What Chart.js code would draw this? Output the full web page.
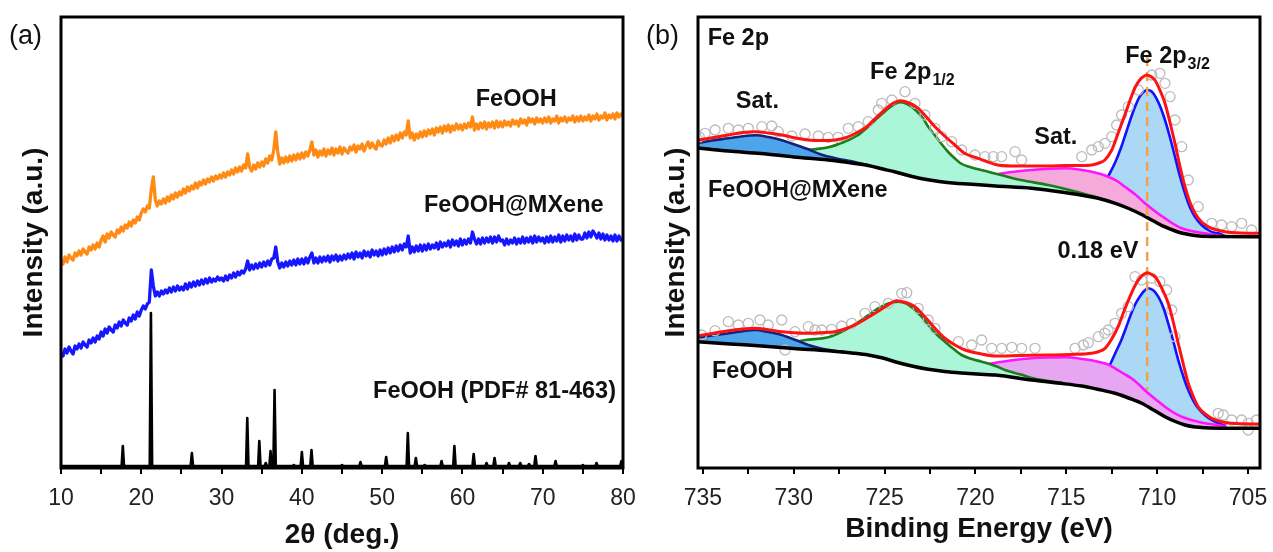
<!DOCTYPE html>
<html>
<head>
<meta charset="utf-8">
<script src="https://cdn.jsdelivr.net/npm/chart.js@4.4.1/dist/chart.umd.min.js"></script>
<style>
html, body { margin: 0; padding: 0; background: #fff; }
#wrap { position: relative; width: 1273px; height: 552px; }
.panel { position: absolute; top: 0; height: 552px; }
#pa { left: 0; width: 640px; }
#pb { left: 640px; width: 633px; }
</style>
</head>
<body>
<div id="wrap">
  <div class="panel" id="pa"><canvas id="xrd"></canvas></div>
  <div class="panel" id="pb"><canvas id="xps"></canvas></div>
</div>
<script>
// ---------- (a) XRD, 2theta 10-80 deg, 0.25 deg step ----------
var xrdStart = 10, xrdStep = 0.25;

var feoohXrd = [
  208,204,211,206,213,210,208,215,212,217,213,219,216,214,221,218,223,219,225,221,
  228,232,226,234,230,236,233,231,238,235,241,237,243,240,246,242,248,245,251,248,
  255,259,256,262,260,279,291,268,262,267,264,269,265,271,267,273,269,275,271,276,
  273,279,275,281,277,282,279,285,280,286,283,288,284,289,286,291,287,292,289,293,
  290,295,291,296,293,298,294,300,296,301,297,303,300,314,301,297,303,299,305,301,
  306,302,309,305,312,308,318,336,316,304,310,305,311,306,312,307,313,308,314,309,
  315,310,316,312,318,326,313,318,311,317,313,319,312,318,314,320,313,319,315,321,
  314,320,317,315,321,318,323,316,322,319,324,317,322,326,320,325,321,319,327,323,
  322,328,324,330,325,332,327,333,328,335,330,336,333,347,330,335,328,334,330,336,
  331,337,332,338,334,339,333,340,336,341,335,342,337,343,336,342,338,344,339,343,
  338,344,340,345,341,351,338,344,339,345,340,346,339,345,341,346,340,347,341,346,
  341,347,343,346,342,348,344,347,342,349,345,348,343,350,346,349,344,350,346,349,
  345,350,346,351,345,349,347,352,345,350,347,351,346,350,348,352,346,351,347,352,
  347,351,348,353,347,352,349,354,348,352,350,355,348,353,350,354,349,355,351,354,
  352
];

var mxeneXrd = [
  116,112,119,115,121,117,114,122,119,124,120,126,123,121,128,125,130,126,132,129,
  136,132,139,135,141,138,136,143,140,146,142,148,145,143,150,147,153,149,156,152,
  158,162,159,164,166,198,182,172,176,172,177,174,178,175,180,176,181,177,182,178,
  181,178,184,179,185,181,186,182,187,183,188,184,189,185,190,186,189,187,191,188,
  190,187,192,188,193,190,195,191,196,193,197,195,199,207,198,203,199,204,200,205,
  201,206,202,207,203,209,210,221,206,200,205,201,206,202,207,203,208,203,209,204,
  209,204,210,205,211,215,205,210,205,211,206,211,207,212,206,212,208,213,207,212,
  208,213,209,214,210,215,209,216,211,215,210,217,212,216,211,218,213,217,212,218,
  213,219,214,220,215,221,216,222,217,223,218,224,221,232,215,221,216,222,217,223,
  217,223,218,224,219,223,220,225,219,226,221,225,222,227,221,228,223,227,222,229,
  223,228,224,229,225,236,229,224,229,224,230,225,230,226,231,225,231,226,232,227,
  228,223,229,224,228,225,230,224,229,225,231,225,230,226,231,225,232,226,231,227,
  230,225,231,226,232,226,231,227,233,226,232,227,233,228,232,227,234,228,233,229,
  229,235,230,236,231,237,234,230,235,229,234,228,233,228,232,227,233,227,232,228,
  229
];
var xrdTicks = [10, 15, 20, 25, 30, 35, 40, 45, 50, 55, 60, 65, 70, 75, 80];

// reference card FeOOH (PDF# 81-463): [2theta, height]
var refBase = 2;
var refPeaks = [
  [17.7,22],[21.2,155],[26.3,15],[33.2,50],[34.7,27],[35.5,5],[36.1,17],[36.6,78],
  [39.0,3],[40.0,16],[41.2,18],[43.2,2],[45.0,3],[47.3,6],[50.5,11],[51.5,2],
  [53.2,35],[54.2,10],[55.3,3],[57.4,7],[59.0,22],[61.4,14],[63.0,5],[64.0,10],
  [65.8,5],[67.2,5],[68.3,4],[69.1,12],[71.6,7],[73.4,2],[75.0,3],[76.7,5],[79.8,7]
];

// ---------- (b) XPS Fe 2p, [binding energy, intensity] ----------
var xpsTicks = [705, 707.5, 710, 712.5, 715, 717.5, 720, 722.5, 725, 727.5, 730, 732.5, 735];

var mxBackground = [[735.3,320],[733.6,317],[731.8,314.5],[730,311],[728.1,308],[726.8,305],[725.9,302.5],[725.1,299],[724.4,296],[723.7,292.5],[723,289.5],[722,286.5],[721.1,284.7],[720,283.5],[718.9,282],[716.9,279.7],[715.5,276.5],[714.2,273],[713.2,269.5],[712.3,264.7],[711.5,259],[710.8,253],[710.2,247],[709.6,241.3],[709,237],[708.6,234.7],[707.7,232],[706.5,231.5],[704.3,231.3]];
var mxSat1 = [[735.3,324.7],[734.5,327.5],[733.6,329.7],[732.8,331.8],[732.1,332.7],[731.4,331],[730.7,328],[730,323.8],[729.2,318.7],[728.5,313.5],[727.7,309.7],[726.6,305.8],[725.8,302.2]];
var mx2p12 = [[731,313.5],[730,315.5],[729.2,318],[728.1,320.7],[727.2,326.3],[726.5,332.5],[725.9,341.3],[725.4,350],[725,356.3],[724.6,362],[724.15,365.7],[723.7,363.5],[723.3,358],[722.9,350],[722.6,341.3],[722.2,332],[721.9,324.7],[721.5,316],[721.1,309],[720.8,304.5],[720.3,301],[719.3,296.3],[718.6,293],[717.5,288],[716,283],[714.5,276.5],[713.2,270]];
var mxSat2 = [[719.1,293],[718,296],[716.9,298],[715.9,299.3],[715.07,299.7],[714.3,298.5],[713.6,296.3],[713.1,294],[712.7,291.3],[712.2,287],[711.78,281.3],[711.2,273.5],[710.67,264.7],[710.1,256.5],[709.57,249.7],[709.1,244],[708.65,239.7],[708,236.5],[707.37,234.7],[706.8,233],[706.3,232]];
var mx2p32 = [[712.7,291.3],[712.3,306],[711.97,321.3],[711.7,336],[711.42,351.3],[711.2,362],[710.96,371.3],[710.75,376],[710.54,378],[710.3,376.5],[710.04,369.7],[709.8,360],[709.57,348],[709.3,331],[709.02,311.3],[708.75,292],[708.47,274.7],[708.2,261],[707.92,251.3],[707.55,243],[707.19,238],[706.9,235.5],[706.64,234.7],[706.3,232.5]];
var mxEnvelope = [[735.3,328],[734.4,330.5],[733.6,333],[732.8,335.5],[732.13,336.3],[731.4,335],[730.66,333],[729.9,330],[729.2,328],[728.4,327.5],[727.73,328],[727.1,330.5],[726.6,334.7],[726,341],[725.5,349.7],[725,358],[724.6,364],[724.15,367.3],[723.65,365],[723.15,359.7],[722.7,351],[722.23,341.3],[721.7,332],[721.13,323],[720.57,314.5],[719.85,309.7],[718.9,303.5],[718,302],[716.9,302],[716,302],[715,302.5],[714.2,302.5],[713.6,303],[713.2,305],[712.88,308],[712.5,318],[712.15,334.7],[711.8,352],[711.42,371.3],[711.2,381],[710.96,388],[710.75,391.5],[710.58,393],[710.35,391.5],[710.13,388],[709.85,378],[709.57,364.7],[709.3,346],[709.02,324.7],[708.75,302],[708.47,281.3],[708.2,266],[707.92,254.7],[707.55,246],[707.19,241.3],[706.8,238.5],[706.27,236.3],[705.4,235],[704.3,234.7]];
var mxRaw = [[735.2,331],[734.88,334.7],[734.33,338],[733.6,339.7],[733.05,338],[732.5,339.7],[731.76,341.3],[731.21,342],[730.85,336.3],[730.11,332],[729.38,334],[728.65,332],[728.1,330.7],[727.55,330.7],[727,339.7],[726.45,341.3],[725.9,346.3],[725.35,358],[725.16,364.7],[724.6,368],[723.88,376.3],[723.33,364.7],[722.78,353],[722.23,339.7],[721.86,331.3],[721.31,326.3],[720.76,318],[720.03,313],[719.48,311.3],[719.02,311.3],[718.56,311.3],[717.82,316.3],[717.46,308],[714.15,311.3],[713.6,318],[713.24,321.3],[712.87,324.7],[712.5,331.3],[712.23,343],[711.96,353],[711.59,361.3],[711.04,378],[710.3,393],[709.85,394.7],[709.57,384.7],[709.29,371.3],[709.02,348],[708.65,321.3],[708.29,288],[707.74,261.3],[707,244.7],[706.45,243],[705.9,241.3],[705.35,244.7],[704.8,238]];

var feBackground = [[735.3,126.3],[733.5,124],[731.76,122],[730,119.5],[728.1,117.3],[726.8,115],[725.9,113],[725.1,110],[724.43,106.3],[723.5,102],[722.6,98.7],[721.7,96.5],[720.76,95],[719.5,93.5],[718.9,93],[716.9,88],[715.5,85],[714.15,82],[713.2,78.5],[712.32,74.7],[711.5,69.5],[710.85,64.7],[710.2,58],[709.57,51.3],[709,46.5],[708.47,43],[707.9,41],[707.37,40.3],[706,39.8],[704.3,39.7]];
var feSat1 = [[735.3,130.7],[734.4,132.7],[733.6,134.7],[732.8,136.8],[732.13,138],[731.4,136],[730.66,133],[729.9,128],[729.2,123],[728.5,119.5],[727.8,117.3],[727.2,116]];
var fe2p12 = [[731,122.5],[730.2,125],[729.38,128],[728.1,130.7],[727.18,138],[726.27,148],[725.8,154],[725.35,159.7],[724.8,164.5],[724.24,166.3],[723.8,164.5],[723.33,158],[722.95,151],[722.6,143],[722.1,133],[721.68,126.3],[721.2,119],[720.76,113],[720.2,109],[719.66,106.3],[718.9,102],[718.3,97.5],[717.5,93.5],[716.9,90],[716,87],[715.2,85]];
var feSat2 = [[719.29,104],[718.1,107.5],[716.9,109.7],[716,110.5],[715.07,110.7],[714.1,109],[713.24,106.3],[712.7,103.5],[712.32,99.7],[711.9,95],[711.42,89.7],[710.95,82.5],[710.49,74.7],[710,67.5],[709.57,61.3],[709.1,55.5],[708.65,51.3],[708,47.5],[707.37,44.7],[706.64,43],[706.2,41.5]];
var fe2p32 = [[712.6,103],[712.3,115],[711.97,128],[711.7,141],[711.42,154.7],[711.2,164],[710.96,171.3],[710.72,177],[710.49,179.7],[710.2,177.5],[709.94,171.3],[709.65,160],[709.39,144.7],[709.1,126],[708.84,108],[708.55,91],[708.29,78],[708,67],[707.74,59.7],[707.35,52.5],[707,48],[706.6,44.5],[706.2,42]];
var feEnvelope = [[735.3,132],[734.4,134.8],[733.6,137.3],[732.8,139],[732.13,139.7],[731.4,138.3],[730.66,136.3],[730,135.2],[729.38,134.7],[728.5,135.3],[727.73,136.3],[727.2,139],[726.63,143],[726.1,148.5],[725.53,154.7],[724.9,162],[724.33,167.3],[723.85,165.5],[723.33,161.3],[722.8,151.5],[722.23,139.7],[721.7,130],[721.13,123],[720.57,118],[719.85,114.7],[718.9,112],[717.5,112.5],[716,113],[714.8,113.5],[713.6,114.7],[713.2,116.5],[712.87,119.7],[712.5,129],[712.15,141.3],[711.8,158],[711.42,174.7],[711.2,183],[710.96,189.7],[710.75,193.5],[710.54,195.3],[710.3,193.5],[710.04,189.7],[709.7,178],[709.39,164.7],[709.1,145],[708.84,124.7],[708.55,103],[708.29,84.7],[708,71],[707.74,61.3],[707.35,54],[707,49.7],[706.5,46.5],[705.9,44.7],[704.3,44]];
var feRaw = [[735.07,133],[734.33,137.3],[733.6,146.3],[733.05,143],[732.5,144.7],[731.86,148],[731.4,143],[730.66,148],[730.48,118],[729.93,136.3],[729.2,141.3],[728.83,138],[728.46,138],[727.91,138.7],[727.36,142],[726.81,144.7],[726.08,154.7],[725.53,161.3],[724.8,164.7],[724.06,174.7],[723.78,175.3],[723.15,159.7],[722.6,148],[722.23,139.7],[720.94,126.3],[720.21,123],[719.66,128],[719.11,119.7],[718.56,119.7],[718,120.7],[717.46,119.7],[716.72,119.7],[714.52,119.7],[714.06,123],[713.79,125.3],[713.24,131.3],[712.88,134.7],[712.69,138],[712.32,144.7],[711.96,154.7],[711.59,161.3],[711.22,191.3],[710.85,188],[710.3,189.7],[709.85,186.3],[709.48,178],[709.2,158],[709.02,131.3],[706.64,54.7],[706.36,53],[705.9,48],[705.35,48],[704.99,44.7],[704.99,38],[704.53,48]];

var peakShift = [[710.55,411],[710.55,78]];

// ---------- helpers ----------
var FONT = '"Liberation Sans", Arial, Helvetica, sans-serif';
Chart.defaults.font.family = FONT;
Chart.defaults.color = '#222';

function pairs(arr) { return arr.map(function (p) { return { x: p[0], y: p[1] }; }); }

var xrdAngles = feoohXrd.map(function (_, i) { return xrdStart + i * xrdStep; });
function onGrid(vals) { return vals.map(function (v, i) { return { x: xrdAngles[i], y: v }; }); }

var refPoints = [{ x: 10, y: refBase }];
refPeaks.forEach(function (p) {
  refPoints.push({ x: p[0] - 0.15, y: refBase }, { x: p[0], y: p[1] }, { x: p[0] + 0.15, y: refBase });
});
refPoints.push({ x: 80, y: refBase });

// box around the plot area, free text, panel letter
var frame = {
  id: 'frame',
  afterDatasetsDraw: function (chart) {
    var a = chart.chartArea, ctx = chart.ctx;
    ctx.save();
    ctx.lineWidth = 3;
    ctx.strokeStyle = '#000';
    ctx.strokeRect(a.left, a.top, a.right - a.left, a.bottom - a.top);
    ctx.restore();
  },
  afterDraw: function (chart, args, opts) {
    var ctx = chart.ctx, sx = chart.scales.x, sy = chart.scales.y;
    ctx.save();
    ctx.fillStyle = '#111';
    ctx.textBaseline = 'middle';
    (opts.notes || []).forEach(function (n) {
      var px = sx.getPixelForValue(n.x), py = sy.getPixelForValue(n.y);
      ctx.font = 'bold 23.5px ' + FONT;
      ctx.textAlign = n.align || 'center';
      ctx.fillText(n.text, px, py);
      if (n.sub) {
        var w = ctx.measureText(n.text).width;
        ctx.font = 'bold 16px ' + FONT;
        ctx.textAlign = 'left';
        ctx.fillText(n.sub, px + w + 1, py + 8);
      }
    });
    if (opts.letter) {
      ctx.font = '27px ' + FONT;
      ctx.textAlign = 'left';
      ctx.fillText(opts.letter, opts.letterX, 37);
    }
    ctx.restore();
  }
};

function fixedTicks(list) {
  return function (s) { s.ticks = list.map(function (v) { return { value: v }; }); };
}
function bottomAxis(extra) {
  return Object.assign({
    type: 'linear',
    // fixed axis height; edge labels may hang into the layout padding
    afterFit: function (s) { s.height = 84; s.paddingLeft = 0; s.paddingRight = 0; },
    grid: { drawOnChartArea: false, drawTicks: true, tickLength: 6, color: '#000', lineWidth: 2 },
    border: { display: false }
  }, extra);
}
function leftAxis(pad) {
  return {
    min: 0, max: 451,
    afterFit: function (s) { s.width = pad.w; s.paddingTop = 0; s.paddingBottom = 0; },
    ticks: { display: false }, grid: { display: false }, border: { display: false },
    title: { display: true, text: 'Intensity (a.u.)', color: '#111', font: { size: 28, weight: 'bold' }, padding: { top: pad.t, bottom: 0 } }
  };
}

// ---------- (a) ----------
new Chart(document.getElementById('xrd'), {
  type: 'line',
  data: {
    datasets: [
      { data: onGrid(feoohXrd), borderColor: '#ff8a14', borderWidth: 3.3 },
      { data: onGrid(mxeneXrd), borderColor: '#1616ff', borderWidth: 3.3 },
      { data: refPoints, borderColor: '#000', borderWidth: 2.6 }
    ]
  },
  options: {
    responsive: true, maintainAspectRatio: false, animation: false,
    layout: { padding: { left: 0, top: 17, right: 17, bottom: 0 } },
    elements: { point: { radius: 0 }, line: { tension: 0, fill: false, borderJoinStyle: 'round' } },
    plugins: {
      legend: { display: false }, tooltip: { enabled: false },
      frame: {
        letter: '(a)', letterX: 9,
        notes: [
          { text: 'FeOOH', x: 66.7, y: 368 },
          { text: 'FeOOH@MXene', x: 66.4, y: 262 },
          { text: 'FeOOH (PDF# 81-463)', x: 64.0, y: 76 }
        ]
      }
    },
    scales: {
      x: bottomAxis({
        min: 10, max: 80,
        afterBuildTicks: fixedTicks(xrdTicks),
        ticks: { autoSkip: false, maxRotation: 0, padding: 11, color: '#222', font: { size: 23 },
                 callback: function (v) { return v % 10 === 0 ? String(v) : ''; } },
        title: { display: true, text: '2θ (deg.)', color: '#111', font: { size: 28, weight: 'bold' }, padding: { top: 0, bottom: 0 } }
      }),
      y: leftAxis({ w: 61, t: 17 })
    }
  },
  plugins: [frame]
});

// ---------- (b) ----------
function spectrum(base, s) {
  var line = { cubicInterpolationMode: 'monotone', fill: false };
  return [
    Object.assign({ data: pairs(s.bg), borderColor: '#000', borderWidth: 3.5, order: 4 }, line),
    Object.assign({ data: pairs(s.env), borderColor: '#ff1212', borderWidth: 3, order: 2 }, line),
    { data: pairs(s.raw), showLine: false, pointRadius: 5, pointBorderColor: '#bcbcbc',
      pointBackgroundColor: 'rgba(255,255,255,0)', pointBorderWidth: 1.3, order: 5 },
    Object.assign({}, line, { data: pairs(s.sat1), borderColor: '#14237a', borderWidth: 2.6, fill: String(base), backgroundColor: '#4da4ea', order: 6 }),
    Object.assign({}, line, { data: pairs(s.p12), borderColor: '#1b7d1b', borderWidth: 2.6, fill: String(base), backgroundColor: '#abf5d9', order: 7 }),
    Object.assign({}, line, { data: pairs(s.sat2), borderColor: '#ff14ff', borderWidth: 2.6, fill: String(base), backgroundColor: s.pink, order: 8 }),
    Object.assign({}, line, { data: pairs(s.p32), borderColor: '#1212ff', borderWidth: 2.6, fill: String(base), backgroundColor: '#abd8f5', order: 9 })
  ];
}

var xpsSets = []
  .concat(spectrum(0, { bg: mxBackground, env: mxEnvelope, raw: mxRaw, sat1: mxSat1, p12: mx2p12, sat2: mxSat2, p32: mx2p32, pink: '#f5aadb' }))
  .concat(spectrum(7, { bg: feBackground, env: feEnvelope, raw: feRaw, sat1: feSat1, p12: fe2p12, sat2: feSat2, p32: fe2p32, pink: '#e6a6f2' }));
xpsSets.push({ data: pairs(peakShift), borderColor: '#f5a04a', borderWidth: 2.5, borderDash: [9, 6], tension: 0, fill: false, order: 3 });

new Chart(document.getElementById('xps'), {
  type: 'line',
  data: { datasets: xpsSets },
  options: {
    responsive: true, maintainAspectRatio: false, animation: false,
    layout: { padding: { left: 0, top: 17, right: 13, bottom: 0 } },
    elements: { point: { radius: 0 }, line: { borderJoinStyle: 'round' } },
    plugins: {
      legend: { display: false }, tooltip: { enabled: false },
      frame: {
        letter: '(b)', letterX: 6,
        notes: [
          { text: 'Fe 2p', x: 734.74, y: 429, align: 'left' },
          { text: 'Fe 2p', sub: '1/2', x: 725.8, y: 395, align: 'left' },
          { text: 'Fe 2p', sub: '3/2', x: 711.76, y: 411, align: 'left' },
          { text: 'Sat.', x: 732.0, y: 366 },
          { text: 'Sat.', x: 715.58, y: 330 },
          { text: 'FeOOH@MXene', x: 734.72, y: 277, align: 'left' },
          { text: '0.18 eV', x: 713.26, y: 216 },
          { text: 'FeOOH', x: 734.5, y: 96, align: 'left' }
        ]
      }
    },
    scales: {
      x: bottomAxis({
        min: 704.34, max: 735.27, reverse: true,
        afterBuildTicks: fixedTicks(xpsTicks),
        ticks: { autoSkip: false, maxRotation: 0, padding: 11, color: '#222', font: { size: 23 },
                 callback: function (v) { return v % 5 === 0 ? String(v) : ''; } },
        title: { display: true, text: 'Binding Energy (eV)', color: '#111', font: { size: 28, weight: 'bold' }, padding: { top: 0, bottom: 6 } }
      }),
      y: leftAxis({ w: 58, t: 19 })
    }
  },
  plugins: [frame]
});
</script>
</body>
</html>
